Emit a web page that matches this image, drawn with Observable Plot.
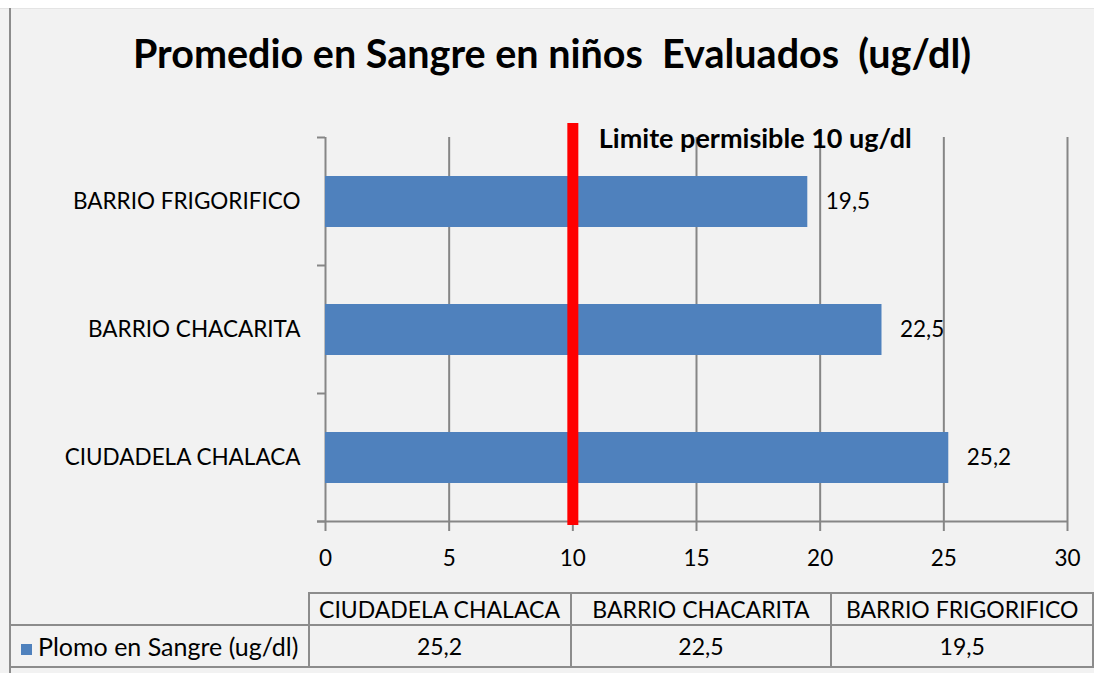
<!DOCTYPE html>
<html>
<head>
<meta charset="utf-8">
<script src="https://cdn.jsdelivr.net/npm/d3@7"></script>
<script src="https://cdn.jsdelivr.net/npm/@observablehq/plot@0.6"></script>
<style>
  html, body { margin: 0; padding: 0; background: #ffffff; }
  #chart { position: relative; width: 1094px; height: 673px; overflow: hidden; font-family: Lato, sans-serif; color: #000; }
  #bg { position: absolute; left: 0; top: 8px; right: 0; bottom: 0; background: #f2f2f2; border-top: 1px solid #e4e4e4; }
  #leftline { position: absolute; left: 9px; top: 8px; width: 2px; bottom: 0; background: #8c8c8c; }
  #title { position: absolute; left: 10px; right: 0; top: 33px; text-align: center; font-weight: bold; font-size: 39.5px; line-height: 1; white-space: pre; }
  #plot { position: absolute; left: 0; top: 100px; }
  #table { position: absolute; left: 9px; top: 592px; border-collapse: collapse; table-layout: fixed; font-size: 23px; }
  #table td { border: 2px solid #8c8c8c; padding: 0; text-align: center; white-space: nowrap; overflow: hidden; }
  #table td.blank { border-top: none; border-left: none; }
  #table td.series { text-align: left; padding-left: 10px; font-size: 25px; }
  .key { display: inline-block; width: 11px; height: 11px; background: #4f81bd; margin-right: 6px; vertical-align: 1px; }
</style>
</head>
<body>
<div id="chart">
  <div id="bg"></div>
  <div id="leftline"></div>
  <div id="title"></div>
  <div id="plot"></div>
  <table id="table"></table>
</div>
<script>
// ---- data ----
const categories = ["CIUDADELA CHALACA", "BARRIO CHACARITA", "BARRIO FRIGORIFICO"];
const values = [25.2, 22.5, 19.5];
const xTicks = [0, 5, 10, 15, 20, 25, 30];
const limitValue = [10];
const limitLabel = "Limite permisible 10 ug/dl";
const seriesName = "Plomo en Sangre (ug/dl)";
const titleText = "Promedio en Sangre en niños  Evaluados  (ug/dl)";

const data = categories.map((c, i) => ({category: c, value: values[i]}));
const fmt = v => v.toFixed(1).replace(".", ",");

document.getElementById("title").textContent = titleText;

const gray = "#868686";

// category boundary ticks + value-axis baseline, drawn from the plot's own scales
function boundaryTicks(index, scales, values, dims) {
  const y = scales.y, x = scales.x;
  const bw = typeof y.bandwidth === "function" ? y.bandwidth() : y.bandwidth;
  const step = typeof y.step === "function" ? y.step() : y.step;
  const half = (step - bw) / 2;
  const dom = y.domain();
  const ys = dom.map(c => y(c) - half);
  ys.push(y(dom[dom.length - 1]) + bw + half);
  const x0 = x(0);
  const g = d3.create("svg:g").attr("stroke", gray).attr("stroke-width", 2);
  ys.forEach(v => g.append("line").attr("x1", x0 - 8).attr("x2", x0).attr("y1", v).attr("y2", v));
  const yb = ys[ys.length - 1];
  g.append("line").attr("x1", x0 - 8).attr("x2", x(xTicks[xTicks.length - 1])).attr("y1", yb).attr("y2", yb);
  return g.node();
}

const chart = Plot.plot({
  width: 1094,
  height: 480,
  marginTop: 37,
  marginBottom: 57,
  marginLeft: 325,
  marginRight: 27,
  style: {background: "transparent", fontFamily: "Lato, sans-serif", fontSize: "22.5px", color: "#000", overflow: "visible"},
  x: {domain: [0, 30]},
  y: {domain: categories.slice().reverse(), paddingInner: 0.6, paddingOuter: 0.3},
  marks: [
    Plot.ruleX(xTicks, {stroke: gray, strokeWidth: 2}),
    Plot.barX(data, {x: "value", y: "category", fill: "#4f81bd"}),
    Plot.text(data, {x: "value", y: "category", text: d => fmt(d.value), dx: 18, textAnchor: "start", fill: "#000"}),
    boundaryTicks,
    Plot.axisX({ticks: xTicks, tickSize: 8, tickPadding: 19, stroke: gray, strokeWidth: 2, fill: "#000", label: null}),
    Plot.axisY({tickSize: 0, tickPadding: 25, fill: "#000", fontSize: 22.5, label: null}),
    Plot.ruleX(limitValue, {stroke: "#ff0000", strokeWidth: 11, insetTop: -14, insetBottom: -2}),
    Plot.text(limitValue, {x: d => d, frameAnchor: "top", text: () => limitLabel, dx: 26, dy: -9, textAnchor: "start", fontWeight: "bold", fontSize: 27, fill: "#000"})
  ]
});
document.getElementById("plot").appendChild(chart);

// data table below the chart
const table = document.getElementById("table");
const cg = document.createElement("colgroup");
[299, 263, 263, 263].forEach(w => { const c = document.createElement("col"); c.style.width = w + "px"; cg.appendChild(c); });
table.appendChild(cg);
const r1 = table.insertRow();
r1.style.height = "32px";
const blank = r1.insertCell(); blank.className = "blank";
categories.forEach(c => { const td = r1.insertCell(); td.textContent = c; });
const r2 = table.insertRow();
r2.style.height = "42px";
const s = r2.insertCell(); s.className = "series";
s.innerHTML = '<span class="key"></span>';
s.appendChild(document.createTextNode(seriesName));
values.forEach(v => { const td = r2.insertCell(); td.textContent = fmt(v); });
</script>
</body>
</html>
